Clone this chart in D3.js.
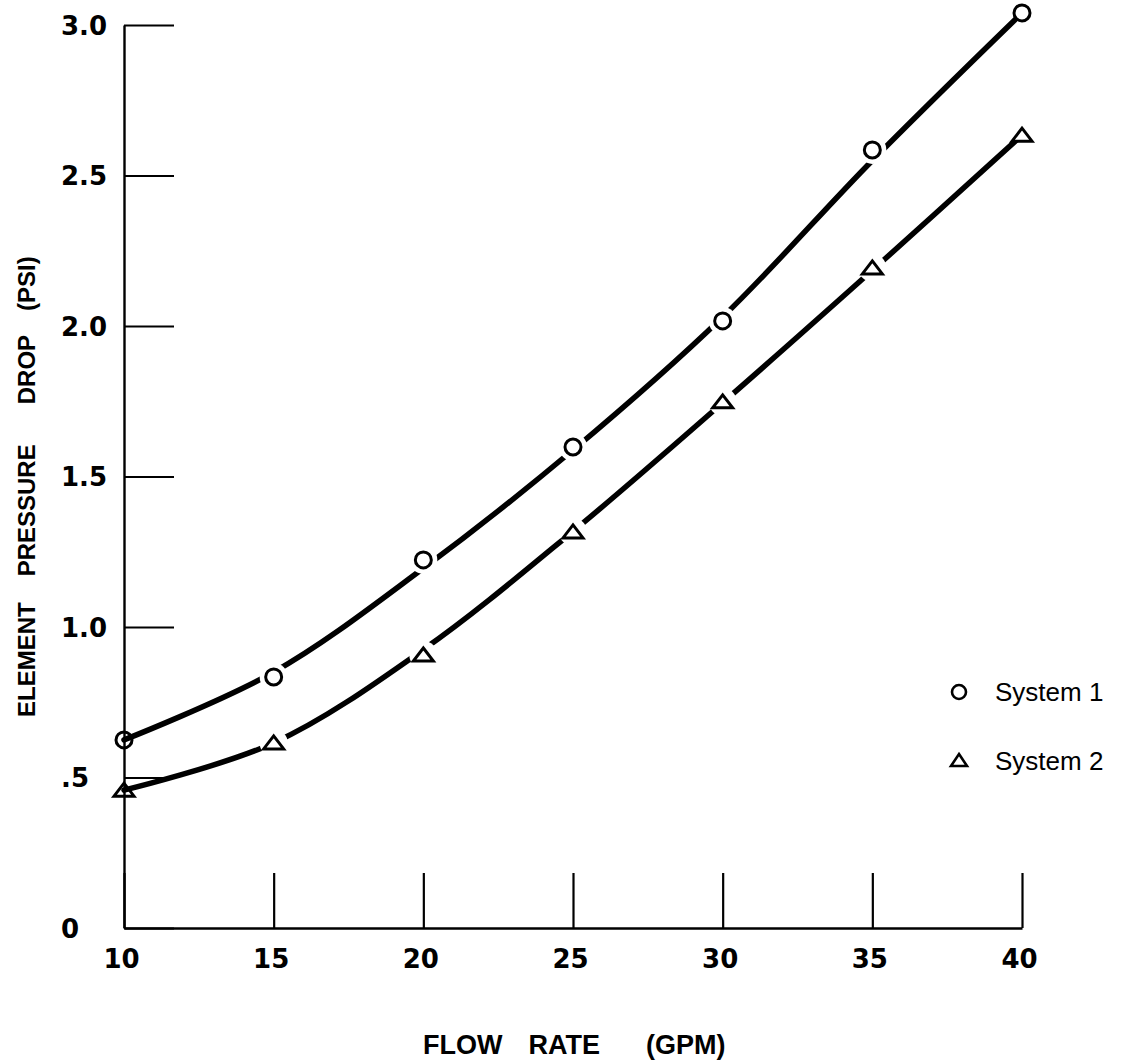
<!DOCTYPE html>
<html>
<head>
<meta charset="utf-8">
<script src="https://cdn.jsdelivr.net/npm/d3@7"></script>
<style>
  html, body { margin: 0; padding: 0; background: #fff; }
  svg { display: block; }
  text { fill: #000; }
</style>
</head>
<body>
<svg id="chart" width="1134" height="1061"></svg>
<script>
// ---- data ----
const flowRates = [10, 15, 20, 25, 30, 35, 40];
const system1 = [0.625, 0.834, 1.223, 1.598, 2.017, 2.585, 3.04];
const system2 = [0.458, 0.615, 0.907, 1.316, 1.748, 2.193, 2.634];
// hand-drawn smooth fit curves
const system1Curve = [0.625, 0.85, 1.195, 1.588, 2.03, 2.55, 3.04];
const system2Curve = [0.458, 0.615, 0.925, 1.318, 1.745, 2.185, 2.634];
const yTickValues = [0, 0.5, 1.0, 1.5, 2.0, 2.5, 3.0];
const yTickLabels = ["0", ".5", "1.0", "1.5", "2.0", "2.5", "3.0"];
const xTickValues = [10, 15, 20, 25, 30, 35, 40];
const xTickLabels = ["10", "15", "20", "25", "30", "35", "40"];
const seriesNames = ["System 1", "System 2"];
const xTitleWords = ["FLOW", "RATE", "(GPM)"];
const yTitleWords = ["ELEMENT", "PRESSURE", "DROP", "(PSI)"];

const tickFont = "'DejaVu Sans', sans-serif";
const titleFont = "'Liberation Sans', Arial, sans-serif";

const svg = d3.select("#chart");
const x = d3.scaleLinear().domain([10, 40]).range([124, 1022]);
const y = d3.scaleLinear().domain([0, 3]).range([928, 25]);

// axes
const yAxis = d3.axisLeft(y)
  .tickValues(yTickValues)
  .tickFormat((d, i) => yTickLabels[i])
  .tickSizeInner(-50)
  .tickSizeOuter(0);
const gy = svg.append("g").attr("transform", "translate(124,0)").call(yAxis);
gy.select(".domain").attr("stroke", "#000").attr("stroke-width", 2.4);
gy.selectAll(".tick line").attr("stroke", "#000").attr("stroke-width", 2.2);
gy.selectAll(".tick text")
  .attr("x", -63).attr("dy", "0.36em")
  .attr("text-anchor", "start")
  .style("font-size", "26px")
  .style("font-weight", "bold")
  .style("font-family", tickFont);

const xAxis = d3.axisBottom(x)
  .tickValues(xTickValues)
  .tickFormat((d, i) => xTickLabels[i])
  .tickSizeInner(-55)
  .tickSizeOuter(0);
const gx = svg.append("g").attr("transform", "translate(0,928)").call(xAxis);
gx.select(".domain").attr("stroke", "#000").attr("stroke-width", 2.4);
gx.selectAll(".tick line").attr("stroke", "#000").attr("stroke-width", 2.2);
gx.selectAll(".tick text")
  .attr("y", 31).attr("dy", "0.36em")
  .attr("dx", "-3")
  .style("font-size", "26px")
  .style("font-weight", "bold")
  .style("font-family", tickFont);

// titles
const xTitleGaps = [0, 26, 46];
const xt = svg.append("text")
  .attr("x", 423).attr("y", 1044).attr("dy", "0.36em")
  .attr("text-anchor", "start")
  .style("font-family", titleFont)
  .style("font-weight", "bold")
  .style("font-size", "27px");
xt.selectAll("tspan").data(xTitleWords).enter().append("tspan")
  .attr("dx", (d, i) => xTitleGaps[i])
  .text(d => d);

const yTitleGaps = [0, 26, 40, 24];
const yt = svg.append("text")
  .attr("transform", "translate(26,717) rotate(-90)")
  .attr("dy", "0.36em")
  .attr("text-anchor", "start")
  .style("font-family", titleFont)
  .style("font-weight", "bold")
  .style("font-size", "24px");
yt.selectAll("tspan").data(yTitleWords).enter().append("tspan")
  .attr("dx", (d, i) => yTitleGaps[i])
  .text(d => d);

// curves
const line = d3.line()
  .x((d, i) => x(flowRates[i]))
  .y(d => y(d))
  .curve(d3.curveCatmullRom.alpha(0.5));
[system1Curve, system2Curve].forEach(c => {
  svg.append("path")
    .attr("d", line(c))
    .attr("fill", "none")
    .attr("stroke", "#000")
    .attr("stroke-width", 5.5)
    .attr("stroke-linecap", "round");
});

// gaps around interior markers
const interior = flowRates.map((f, i) => i).filter(i => i > 0 && i < flowRates.length - 1);
[system1, system2].forEach(s => {
  svg.selectAll(null).data(interior).enter().append("circle")
    .attr("cx", i => x(flowRates[i]))
    .attr("cy", i => y(s[i]))
    .attr("r", 14)
    .attr("fill", "#fff");
});

// markers
const triPath = "M0,-7L10,6L-10,6Z";
svg.selectAll(null).data(system1).enter().append("circle")
  .attr("cx", (d, i) => x(flowRates[i]))
  .attr("cy", d => y(d))
  .attr("r", 8)
  .attr("fill", (d, i) => i === 0 ? "none" : "#fff")
  .attr("stroke", "#000")
  .attr("stroke-width", 3);
svg.selectAll(null).data(system2).enter().append("path")
  .attr("transform", (d, i) => `translate(${x(flowRates[i])},${y(d)})`)
  .attr("d", triPath)
  .attr("fill", (d, i) => i === 0 ? "none" : "#fff")
  .attr("stroke", "#000")
  .attr("stroke-width", 3)
  .attr("stroke-linejoin", "miter");

// legend
const legend = svg.append("g");
legend.append("circle").attr("cx", 959).attr("cy", 692).attr("r", 7)
  .attr("fill", "#fff").attr("stroke", "#000").attr("stroke-width", 2.6);
legend.append("path").attr("transform", "translate(959,761)").attr("d", "M0,-7L8,5L-8,5Z")
  .attr("fill", "#fff").attr("stroke", "#000").attr("stroke-width", 2.6);
legend.selectAll(null).data(seriesNames).enter().append("text")
  .attr("x", 995).attr("y", (d, i) => i === 0 ? 692 : 761)
  .attr("dy", "0.36em")
  .style("font-family", titleFont)
  .style("font-size", "26px")
  .text(d => d);
</script>
</body>
</html>
